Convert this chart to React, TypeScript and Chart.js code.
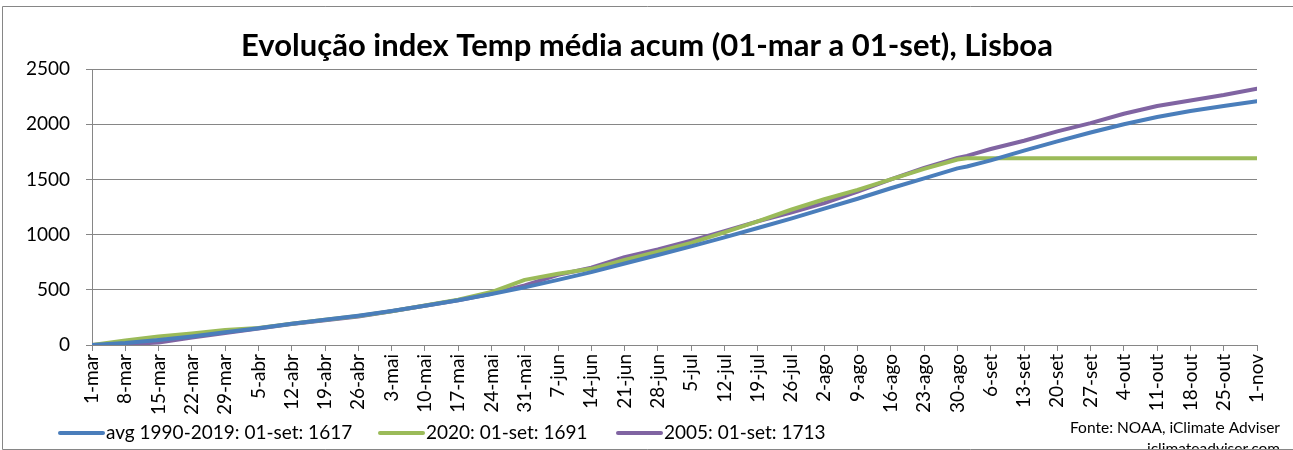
import React, { useEffect, useRef } from "react";
import { Chart, registerables } from "chart.js";

Chart.register(...registerables);

const TITLE = "Evolução index Temp média acum (01-mar a 01-set), Lisboa";

const xTickLabels = [
  "1-mar", "8-mar", "15-mar", "22-mar", "29-mar", "5-abr", "12-abr", "19-abr", "26-abr",
  "3-mai", "10-mai", "17-mai", "24-mai", "31-mai", "7-jun", "14-jun", "21-jun", "28-jun",
  "5-jul", "12-jul", "19-jul", "26-jul", "2-ago", "9-ago", "16-ago", "23-ago", "30-ago",
  "6-set", "13-set", "20-set", "27-set", "4-out", "11-out", "18-out", "25-out", "1-nov",
];

// day index since 1-mar
const days = [
  0, 7, 14, 21, 28, 35, 42, 49, 56, 63, 70, 77, 84, 91, 98, 105, 112, 119, 126, 133,
  140, 147, 154, 161, 168, 175, 182, 184, 189, 196, 203, 210, 217, 224, 231, 238, 245,
];

const avgValues = [
  0, 18, 45, 78, 115, 152, 192, 228, 265, 308, 355, 405, 462, 522, 590, 660, 738, 815, 893, 975,
  1060, 1145, 1235, 1325, 1420, 1510, 1600, 1617, 1672, 1760, 1845, 1925, 2000, 2065, 2120, 2165, 2208,
];

const y2020Values = [
  0, 40, 78, 105, 135, 155, 192, 228, 262, 305, 358, 410, 480, 590, 645, 690, 770, 845, 925, 1020,
  1120, 1225, 1320, 1405, 1500, 1595, 1680, 1691, 1691, 1691, 1691, 1691, 1691, 1691, 1691, 1691, 1691,
];

const y2005Values = [
  0, 8, 22, 68, 108, 150, 190, 225, 258, 305, 355, 405, 465, 540, 635, 700, 795, 865, 945, 1030,
  1120, 1200, 1285, 1390, 1500, 1605, 1695, 1713, 1775, 1850, 1935, 2010, 2095, 2165, 2215, 2265, 2322,
];

const seriesLabels = [
  "avg 1990-2019: 01-set: 1617",
  "2020: 01-set: 1691",
  "2005: 01-set: 1713",
];
const seriesColors = ["#4A7EBB", "#9BBB59", "#8064A2"];

const FONT = "Lato, 'Open Sans', sans-serif";

const decorPlugin = {
  id: "decor",
  afterDraw(chart: any) {
    const ctx = chart.ctx as CanvasRenderingContext2D;
    ctx.save();
    // title
    ctx.fillStyle = "#000";
    ctx.font = `bold 31px ${FONT}`;
    ctx.textAlign = "center";
    ctx.textBaseline = "middle";
    ctx.fillText(TITLE, 647, 46);

    // legend
    const legendX = [60, 380, 618];
    ctx.font = `19px ${FONT}`;
    ctx.textAlign = "left";
    chart.data.datasets.forEach((ds: any, i: number) => {
      const x = legendX[i];
      ctx.strokeStyle = ds.borderColor;
      ctx.lineWidth = 4;
      ctx.lineCap = "round";
      ctx.beginPath();
      ctx.moveTo(x, 433);
      ctx.lineTo(x + 43, 433);
      ctx.stroke();
      ctx.fillStyle = "#000";
      ctx.fillText(ds.label, x + 46, 433);
    });

    // source
    ctx.font = `15.5px ${FONT}`;
    ctx.textAlign = "right";
    ctx.fillText("Fonte: NOAA, iClimate Adviser", 1280, 428);
    ctx.fillText("iclimateadviser.com", 1280, 449);

    // frame
    ctx.strokeStyle = "#868686";
    ctx.lineWidth = 1;
    ctx.lineCap = "butt";
    ctx.beginPath();
    ctx.moveTo(1293, 6.5);
    ctx.lineTo(2.5, 6.5);
    ctx.lineTo(2.5, 449.5);
    ctx.lineTo(1293, 449.5);
    ctx.stroke();
    ctx.restore();
  },
};

export default function App() {
  const ref = useRef<HTMLCanvasElement | null>(null);

  useEffect(() => {
    document.body.style.margin = "0";
    const canvas = ref.current;
    if (!canvas) return;
    const mk = (vals: number[]) => days.map((d, i) => ({ x: d, y: vals[i] }));
    const allVals = [avgValues, y2020Values, y2005Values];
    const chart = new Chart(canvas, {
      type: "line",
      data: {
        datasets: allVals.map((vals, i) => ({
          label: seriesLabels[i],
          data: mk(vals),
          borderColor: seriesColors[i],
          backgroundColor: seriesColors[i],
          borderWidth: 4,
          pointRadius: 0,
          tension: 0,
          borderCapStyle: "round" as const,
          borderJoinStyle: "round" as const,
        })),
      },
      options: {
        animation: false,
        responsive: false,
        layout: { padding: { left: 0, right: 36, top: 69, bottom: 0 } },
        plugins: {
          legend: { display: false },
          title: { display: false },
          tooltip: { enabled: false },
        },
        scales: {
          x: {
            type: "linear",
            min: 0,
            max: 245,
            afterFit: (s: any) => {
              s.height = 105;
            },
            afterBuildTicks: (s: any) => {
              s.ticks = xTickLabels.map((_, i) => ({ value: i * 7 }));
            },
            ticks: {
              autoSkip: false,
              maxRotation: 90,
              minRotation: 90,
              padding: 3,
              color: "#000",
              font: { family: FONT, size: 19 },
              callback: (v: any) => xTickLabels[Math.round(Number(v) / 7)] ?? "",
            },
            grid: {
              drawOnChartArea: false,
              drawTicks: true,
              tickLength: 6,
              color: "#868686",
            },
            border: { color: "#868686", width: 1 },
          },
          y: {
            min: 0,
            max: 2500,
            afterFit: (s: any) => {
              s.width = 92;
            },
            ticks: {
              stepSize: 500,
              padding: 16,
              color: "#000",
              font: { family: FONT, size: 19 },
              callback: (v: any) => String(v),
            },
            grid: {
              color: "#868686",
              tickLength: 6,
            },
            border: { color: "#868686", width: 1 },
          },
        },
      },
      plugins: [decorPlugin],
    });
    return () => chart.destroy();
  }, []);

  return (
    <div style={{ position: "absolute", left: 0, top: 0, width: 1293, height: 450, background: "#fff" }}>
      <canvas ref={ref} width={1293} height={450} style={{ width: 1293, height: 450, display: "block" }} />
    </div>
  );
}
